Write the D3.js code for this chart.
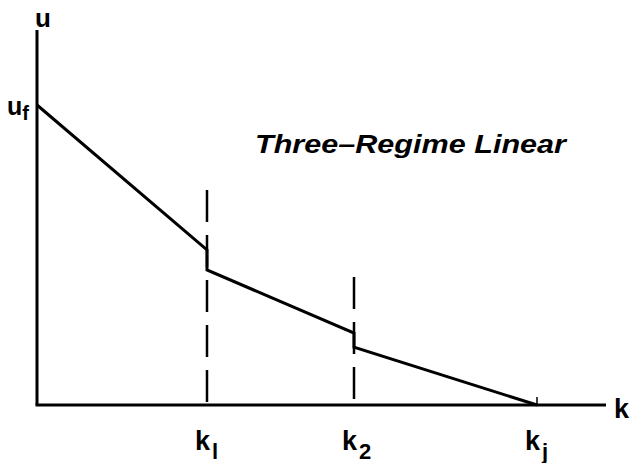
<!DOCTYPE html>
<html>
<head>
<meta charset="utf-8">
<script src="https://cdn.jsdelivr.net/npm/d3@7"></script>
<style>
  body { margin: 0; background: #fff; }
  text { font-family: "Liberation Sans", Arial, sans-serif; fill: #000; }
</style>
</head>
<body>
<div id="chart"></div>
<script>
// Breakpoints along the density axis (arbitrary units, kj = 100)
var breakKeys = ["k1", "k2", "kj"];
var breakValues = [34, 63.4, 100];

// Speed values at each regime (start / end), uf = 100
var regimeStart = [100, 45, 19.3];
var regimeEnd = [51.7, 24, 0];

// Height of the dashed guide lines at k1 and k2
var guideTops = [71.7, 42.7];

var width = 631, height = 463;

var svg = d3.select("#chart")
  .append("svg")
  .attr("width", width)
  .attr("height", height);

// Scales
var x = d3.scaleLinear().domain([0, 100]).range([37, 537]);
var y = d3.scaleLinear().domain([0, 100]).range([405, 105]);

// Axes (plain lines, no ticks)
svg.append("line")
  .attr("x1", x(0)).attr("y1", y(0))
  .attr("x2", x(0)).attr("y2", y(125))
  .attr("stroke", "#000").attr("stroke-width", 3);

svg.append("line")
  .attr("x1", x(0) - 1.5).attr("y1", y(0))
  .attr("x2", x(113.8)).attr("y2", y(0))
  .attr("stroke", "#000").attr("stroke-width", 3);

// Small tick at kj
svg.append("line")
  .attr("x1", x(breakValues[2])).attr("y1", y(0))
  .attr("x2", x(breakValues[2])).attr("y2", y(0) - 8)
  .attr("stroke", "#000").attr("stroke-width", 1.5);

// Dashed guides at k1, k2
svg.selectAll(".guide")
  .data(guideTops)
  .enter().append("line")
  .attr("class", "guide")
  .attr("x1", (d, i) => x(breakValues[i]))
  .attr("x2", (d, i) => x(breakValues[i]))
  .attr("y1", d => y(d))
  .attr("y2", y(0))
  .attr("stroke", "#000")
  .attr("stroke-width", 2.5)
  .attr("stroke-dasharray", "32,13");

// Regime segments, with vertical jumps at the breakpoints
var bounds = [0].concat(breakValues);
var segs = regimeStart.map((s, i) => ({ x0: bounds[i], x1: bounds[i + 1], u0: s, u1: regimeEnd[i] }));

var pts = [];
segs.forEach(s => { pts.push([s.x0, s.u0]); pts.push([s.x1, s.u1]); });

svg.append("path")
  .datum(pts)
  .attr("fill", "none")
  .attr("stroke", "#000")
  .attr("stroke-width", 3)
  .attr("stroke-linejoin", "miter")
  .attr("d", d3.line().x(d => x(d[0])).y(d => y(d[1])));

// Axis labels
svg.append("text")
  .attr("x", x(0) + 6).attr("y", 27)
  .attr("text-anchor", "middle")
  .style("font-size", "26px").style("font-weight", "bold")
  .text("u");

var uf = svg.append("text")
  .attr("x", 7).attr("y", y(100) + 10)
  .style("font-size", "25px").style("font-weight", "bold");
uf.append("tspan").text("u");
uf.append("tspan").attr("dy", 5).style("font-size", "20px").text("f");

svg.append("text")
  .attr("x", 614).attr("y", 418)
  .style("font-size", "27px").style("font-weight", "bold")
  .text("k");

// Breakpoint labels
var subs = ["l", "2", "j"];
breakKeys.forEach((k, i) => {
  var t = svg.append("text")
    .attr("x", x(breakValues[i]) - 12)
    .attr("y", 450)
    .style("font-size", "27px").style("font-weight", "bold");
  t.append("tspan").text("k");
  t.append("tspan").attr("dy", 9).attr("dx", 2).style("font-size", "22px").text(subs[i]);
});

// Title
svg.append("text")
  .attr("x", 255).attr("y", 153)
  .attr("textLength", 311)
  .attr("lengthAdjust", "spacingAndGlyphs")
  .style("font-size", "26px")
  .style("font-weight", "bold")
  .style("font-style", "italic")
  .text("Three\u2013Regime Linear");
</script>
</body>
</html>
